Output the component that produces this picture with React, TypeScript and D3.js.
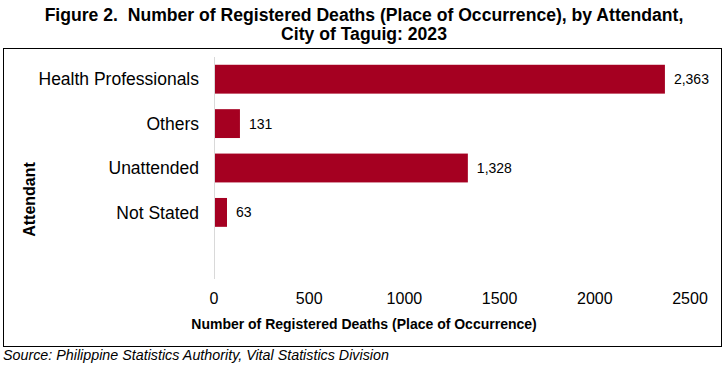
import React, { useEffect, useRef } from 'react';
import * as d3 from 'd3'

const categories = ['Health Professionals', 'Others', 'Unattended', 'Not Stated']
const values = [2363, 131, 1328, 63]
const xTicks = [0, 500, 1000, 1500, 2000, 2500]
const titleLines = [
  'Figure 2.  Number of Registered Deaths (Place of Occurrence), by Attendant,',
  'City of Taguig: 2023'
]
const xTitle = 'Number of Registered Deaths (Place of Occurrence)'
const yTitle = 'Attendant'
const source = 'Source: Philippine Statistics Authority, Vital Statistics Division'

const App: React.FC = () => {
  const svgRef = useRef() as React.MutableRefObject<SVGSVGElement>

  useEffect(() => {
    const W = 728, H = 366
    const font = 'Arial, "Liberation Sans", sans-serif'
    const svg = d3.select(svgRef.current)
    svg.html('')
    svg.attr('width', W).attr('height', H).style('font-family', font)

    // title
    svg.append('g').selectAll('text')
      .data(titleLines)
      .join('text')
      .attr('x', W / 2)
      .attr('y', (_, i) => 21 + i * 19)
      .attr('text-anchor', 'middle')
      .attr('font-weight', 'bold')
      .attr('font-size', 17.6)
      .style('white-space', 'pre')
      .text(d => d)

    // outer box
    svg.append('rect')
      .attr('x', 3.5).attr('y', 48.5)
      .attr('width', 718).attr('height', 298)
      .attr('fill', 'none').attr('stroke', '#000').attr('stroke-width', 1)

    const plot = { left: 214, right: 690, top: 57, bottom: 279 }
    const slots = categories.length + 1 // one empty slot below the last bar

    const xScale = d3.scaleLinear().domain([0, 2500]).range([plot.left, plot.right])
    const yScale = d3.scaleBand()
      .domain(categories)
      .range([plot.top, plot.top + (plot.bottom - plot.top) * categories.length / slots])
      .paddingInner(0.35)
      .paddingOuter(0.175)

    // axis line
    svg.append('line')
      .attr('x1', xScale(0) + 0.5).attr('x2', xScale(0) + 0.5)
      .attr('y1', plot.top).attr('y2', plot.bottom)
      .attr('stroke', '#d9d9d9').attr('stroke-width', 1)

    // bars
    svg.append('g').selectAll('rect')
      .data(values)
      .join('rect')
      .attr('x', xScale(0) + 1)
      .attr('y', (_, i) => yScale(categories[i])!)
      .attr('width', d => xScale(d) - xScale(0))
      .attr('height', yScale.bandwidth())
      .attr('fill', '#a50021')

    // value labels
    svg.append('g').selectAll('text')
      .data(values)
      .join('text')
      .attr('x', d => xScale(d) + 10)
      .attr('y', (_, i) => yScale(categories[i])! + yScale.bandwidth() / 2)
      .attr('dy', '0.35em')
      .attr('font-size', 14)
      .attr('fill', '#000')
      .text(d => d3.format(',')(d))

    // category labels
    svg.append('g').selectAll('text')
      .data(categories)
      .join('text')
      .attr('x', 199)
      .attr('y', d => yScale(d)! + yScale.bandwidth() / 2)
      .attr('dy', '0.35em')
      .attr('text-anchor', 'end')
      .attr('font-size', 17.5)
      .text(d => d)

    // x tick labels
    svg.append('g').selectAll('text')
      .data(xTicks)
      .join('text')
      .attr('x', d => xScale(d))
      .attr('y', 298)
      .attr('dy', '0.35em')
      .attr('text-anchor', 'middle')
      .attr('font-size', 16)
      .text(d => d)

    // axis titles
    svg.append('text')
      .attr('x', 364).attr('y', 324)
      .attr('dy', '0.35em')
      .attr('text-anchor', 'middle')
      .attr('font-weight', 'bold')
      .attr('font-size', 14)
      .text(xTitle)

    svg.append('text')
      .attr('transform', `translate(29, 199.5) rotate(-90)`)
      .attr('dy', '0.35em')
      .attr('text-anchor', 'middle')
      .attr('font-weight', 'bold')
      .attr('font-size', 16)
      .text(yTitle)

    // source
    svg.append('text')
      .attr('x', 3).attr('y', 355)
      .attr('dy', '0.35em')
      .attr('font-style', 'italic')
      .attr('font-size', 14.3)
      .text(source)
  }, [])

  return <svg ref={svgRef} style={{ position: 'absolute', left: 0, top: 0 }}/>
}

export default App
